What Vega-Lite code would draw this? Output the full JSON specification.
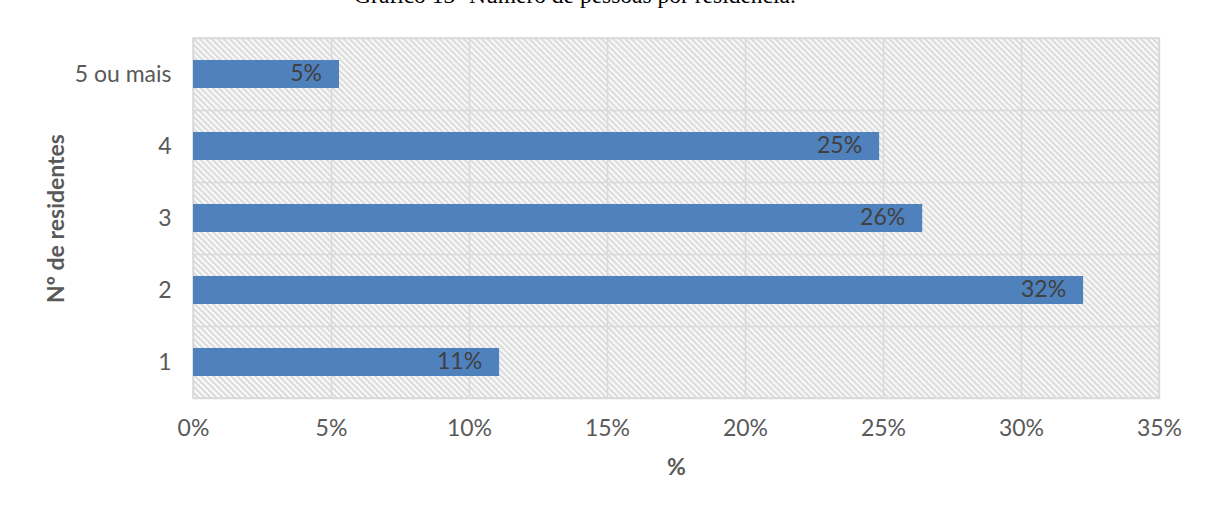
{
  "$schema": "https://vega.github.io/schema/vega-lite/v6.json",
  "autosize": {"type": "none"},
  "width": 966,
  "height": 360,
  "padding": {"left": 193, "top": 38, "right": 47, "bottom": 109},
  "background": "white",
  "title": {
    "text": "Gráfico 13- Número de pessoas por residência.",
    "orient": "top",
    "anchor": "middle",
    "frame": "group",
    "font": "Liberation Serif",
    "fontSize": 23.5,
    "fontWeight": "normal",
    "color": "#000000",
    "offset": 20,
    "dx": -101
  },
  "data": {
    "values": [
      {"residentes": "5 ou mais", "pct": 0.0529},
      {"residentes": "4", "pct": 0.2486},
      {"residentes": "3", "pct": 0.2642},
      {"residentes": "2", "pct": 0.3225},
      {"residentes": "1", "pct": 0.1109}
    ]
  },
  "encoding": {
    "y": {
      "field": "residentes",
      "type": "nominal",
      "sort": ["5 ou mais", "4", "3", "2", "1"],
      "scale": {"paddingInner": 0, "paddingOuter": 0},
      "axis": {
        "title": "Nº de residentes",
        "titleFont": "Lato",
        "titleFontSize": 23,
        "titleFontWeight": "bold",
        "titleColor": "#595959",
        "titlePadding": 6,
        "labelFont": "Lato",
        "labelFontSize": 23,
        "labelColor": "#595959",
        "labelPadding": 22,
        "ticks": false,
        "domain": false,
        "grid": true,
        "tickBand": "extent",
        "gridColor": "#d9d9d9",
        "gridWidth": 1.5
      }
    },
    "x": {
      "field": "pct",
      "type": "quantitative",
      "scale": {"domain": [0, 0.35], "nice": false},
      "axis": {
        "title": "%",
        "titleFont": "Lato",
        "titleFontSize": 23,
        "titleFontWeight": "bold",
        "titleColor": "#595959",
        "titlePadding": 16,
        "labelFont": "Lato",
        "labelFontSize": 23,
        "labelColor": "#595959",
        "labelPadding": 19,
        "format": ".0%",
        "values": [0, 0.05, 0.1, 0.15, 0.2, 0.25, 0.3, 0.35],
        "ticks": false,
        "domain": false,
        "grid": true,
        "gridColor": "#d9d9d9",
        "gridWidth": 1.5,
        "labelFlush": false
      }
    }
  },
  "layer": [
    {
      "mark": {"type": "bar", "color": "#4f81bd", "height": {"band": 0.39}}
    },
    {
      "mark": {"type": "text", "align": "right", "baseline": "middle", "dx": -17, "font": "Lato", "fontSize": 23, "color": "#404040"},
      "encoding": {
        "text": {"field": "pct", "type": "quantitative", "format": ".0%"}
      }
    }
  ],
  "config": {
    "view": {
      "stroke": "#d9d9d9",
      "strokeWidth": 1.5,
      "fill": {
        "gradient": "linear",
        "x1": 0, "y1": 1, "x2": 1.3625, "y2": 0.4922,
        "stops": [
{"offset":0,"color":"#d6d6d6"},{"offset":0.002,"color":"#fff"},{"offset":0.004,"color":"#d6d6d6"},{"offset":0.006,"color":"#fff"},{"offset":0.008,"color":"#d6d6d6"},{"offset":0.01,"color":"#fff"},{"offset":0.012,"color":"#d6d6d6"},{"offset":0.014,"color":"#fff"},{"offset":0.016,"color":"#d6d6d6"},{"offset":0.018,"color":"#fff"},
{"offset":0.02,"color":"#d6d6d6"},{"offset":0.022,"color":"#fff"},{"offset":0.024,"color":"#d6d6d6"},{"offset":0.026,"color":"#fff"},{"offset":0.028,"color":"#d6d6d6"},{"offset":0.03,"color":"#fff"},{"offset":0.032,"color":"#d6d6d6"},{"offset":0.034,"color":"#fff"},{"offset":0.036,"color":"#d6d6d6"},{"offset":0.038,"color":"#fff"},
{"offset":0.04,"color":"#d6d6d6"},{"offset":0.042,"color":"#fff"},{"offset":0.044,"color":"#d6d6d6"},{"offset":0.046,"color":"#fff"},{"offset":0.048,"color":"#d6d6d6"},{"offset":0.05,"color":"#fff"},{"offset":0.052,"color":"#d6d6d6"},{"offset":0.054,"color":"#fff"},{"offset":0.056,"color":"#d6d6d6"},{"offset":0.058,"color":"#fff"},
{"offset":0.06,"color":"#d6d6d6"},{"offset":0.062,"color":"#fff"},{"offset":0.064,"color":"#d6d6d6"},{"offset":0.066,"color":"#fff"},{"offset":0.068,"color":"#d6d6d6"},{"offset":0.07,"color":"#fff"},{"offset":0.072,"color":"#d6d6d6"},{"offset":0.074,"color":"#fff"},{"offset":0.076,"color":"#d6d6d6"},{"offset":0.078,"color":"#fff"},
{"offset":0.08,"color":"#d6d6d6"},{"offset":0.082,"color":"#fff"},{"offset":0.084,"color":"#d6d6d6"},{"offset":0.086,"color":"#fff"},{"offset":0.088,"color":"#d6d6d6"},{"offset":0.09,"color":"#fff"},{"offset":0.092,"color":"#d6d6d6"},{"offset":0.094,"color":"#fff"},{"offset":0.096,"color":"#d6d6d6"},{"offset":0.098,"color":"#fff"},
{"offset":0.1,"color":"#d6d6d6"},{"offset":0.102,"color":"#fff"},{"offset":0.104,"color":"#d6d6d6"},{"offset":0.106,"color":"#fff"},{"offset":0.108,"color":"#d6d6d6"},{"offset":0.11,"color":"#fff"},{"offset":0.112,"color":"#d6d6d6"},{"offset":0.114,"color":"#fff"},{"offset":0.116,"color":"#d6d6d6"},{"offset":0.118,"color":"#fff"},
{"offset":0.12,"color":"#d6d6d6"},{"offset":0.122,"color":"#fff"},{"offset":0.124,"color":"#d6d6d6"},{"offset":0.126,"color":"#fff"},{"offset":0.128,"color":"#d6d6d6"},{"offset":0.13,"color":"#fff"},{"offset":0.132,"color":"#d6d6d6"},{"offset":0.134,"color":"#fff"},{"offset":0.136,"color":"#d6d6d6"},{"offset":0.138,"color":"#fff"},
{"offset":0.14,"color":"#d6d6d6"},{"offset":0.142,"color":"#fff"},{"offset":0.144,"color":"#d6d6d6"},{"offset":0.146,"color":"#fff"},{"offset":0.148,"color":"#d6d6d6"},{"offset":0.15,"color":"#fff"},{"offset":0.152,"color":"#d6d6d6"},{"offset":0.154,"color":"#fff"},{"offset":0.156,"color":"#d6d6d6"},{"offset":0.158,"color":"#fff"},
{"offset":0.16,"color":"#d6d6d6"},{"offset":0.162,"color":"#fff"},{"offset":0.164,"color":"#d6d6d6"},{"offset":0.166,"color":"#fff"},{"offset":0.168,"color":"#d6d6d6"},{"offset":0.17,"color":"#fff"},{"offset":0.172,"color":"#d6d6d6"},{"offset":0.174,"color":"#fff"},{"offset":0.176,"color":"#d6d6d6"},{"offset":0.178,"color":"#fff"},
{"offset":0.18,"color":"#d6d6d6"},{"offset":0.182,"color":"#fff"},{"offset":0.184,"color":"#d6d6d6"},{"offset":0.186,"color":"#fff"},{"offset":0.188,"color":"#d6d6d6"},{"offset":0.19,"color":"#fff"},{"offset":0.192,"color":"#d6d6d6"},{"offset":0.194,"color":"#fff"},{"offset":0.196,"color":"#d6d6d6"},{"offset":0.198,"color":"#fff"},
{"offset":0.2,"color":"#d6d6d6"},{"offset":0.202,"color":"#fff"},{"offset":0.204,"color":"#d6d6d6"},{"offset":0.206,"color":"#fff"},{"offset":0.208,"color":"#d6d6d6"},{"offset":0.21,"color":"#fff"},{"offset":0.212,"color":"#d6d6d6"},{"offset":0.214,"color":"#fff"},{"offset":0.216,"color":"#d6d6d6"},{"offset":0.218,"color":"#fff"},
{"offset":0.22,"color":"#d6d6d6"},{"offset":0.222,"color":"#fff"},{"offset":0.224,"color":"#d6d6d6"},{"offset":0.226,"color":"#fff"},{"offset":0.228,"color":"#d6d6d6"},{"offset":0.23,"color":"#fff"},{"offset":0.232,"color":"#d6d6d6"},{"offset":0.234,"color":"#fff"},{"offset":0.236,"color":"#d6d6d6"},{"offset":0.238,"color":"#fff"},
{"offset":0.24,"color":"#d6d6d6"},{"offset":0.242,"color":"#fff"},{"offset":0.244,"color":"#d6d6d6"},{"offset":0.246,"color":"#fff"},{"offset":0.248,"color":"#d6d6d6"},{"offset":0.25,"color":"#fff"},{"offset":0.252,"color":"#d6d6d6"},{"offset":0.254,"color":"#fff"},{"offset":0.256,"color":"#d6d6d6"},{"offset":0.258,"color":"#fff"},
{"offset":0.26,"color":"#d6d6d6"},{"offset":0.262,"color":"#fff"},{"offset":0.264,"color":"#d6d6d6"},{"offset":0.266,"color":"#fff"},{"offset":0.268,"color":"#d6d6d6"},{"offset":0.27,"color":"#fff"},{"offset":0.272,"color":"#d6d6d6"},{"offset":0.274,"color":"#fff"},{"offset":0.276,"color":"#d6d6d6"},{"offset":0.278,"color":"#fff"},
{"offset":0.28,"color":"#d6d6d6"},{"offset":0.282,"color":"#fff"},{"offset":0.284,"color":"#d6d6d6"},{"offset":0.286,"color":"#fff"},{"offset":0.288,"color":"#d6d6d6"},{"offset":0.29,"color":"#fff"},{"offset":0.292,"color":"#d6d6d6"},{"offset":0.294,"color":"#fff"},{"offset":0.296,"color":"#d6d6d6"},{"offset":0.298,"color":"#fff"},
{"offset":0.3,"color":"#d6d6d6"},{"offset":0.302,"color":"#fff"},{"offset":0.304,"color":"#d6d6d6"},{"offset":0.306,"color":"#fff"},{"offset":0.308,"color":"#d6d6d6"},{"offset":0.31,"color":"#fff"},{"offset":0.312,"color":"#d6d6d6"},{"offset":0.314,"color":"#fff"},{"offset":0.316,"color":"#d6d6d6"},{"offset":0.318,"color":"#fff"},
{"offset":0.32,"color":"#d6d6d6"},{"offset":0.322,"color":"#fff"},{"offset":0.324,"color":"#d6d6d6"},{"offset":0.326,"color":"#fff"},{"offset":0.328,"color":"#d6d6d6"},{"offset":0.33,"color":"#fff"},{"offset":0.332,"color":"#d6d6d6"},{"offset":0.334,"color":"#fff"},{"offset":0.336,"color":"#d6d6d6"},{"offset":0.338,"color":"#fff"},
{"offset":0.34,"color":"#d6d6d6"},{"offset":0.342,"color":"#fff"},{"offset":0.344,"color":"#d6d6d6"},{"offset":0.346,"color":"#fff"},{"offset":0.348,"color":"#d6d6d6"},{"offset":0.35,"color":"#fff"},{"offset":0.352,"color":"#d6d6d6"},{"offset":0.354,"color":"#fff"},{"offset":0.356,"color":"#d6d6d6"},{"offset":0.358,"color":"#fff"},
{"offset":0.36,"color":"#d6d6d6"},{"offset":0.362,"color":"#fff"},{"offset":0.364,"color":"#d6d6d6"},{"offset":0.366,"color":"#fff"},{"offset":0.368,"color":"#d6d6d6"},{"offset":0.37,"color":"#fff"},{"offset":0.372,"color":"#d6d6d6"},{"offset":0.374,"color":"#fff"},{"offset":0.376,"color":"#d6d6d6"},{"offset":0.378,"color":"#fff"},
{"offset":0.38,"color":"#d6d6d6"},{"offset":0.382,"color":"#fff"},{"offset":0.384,"color":"#d6d6d6"},{"offset":0.386,"color":"#fff"},{"offset":0.388,"color":"#d6d6d6"},{"offset":0.39,"color":"#fff"},{"offset":0.392,"color":"#d6d6d6"},{"offset":0.394,"color":"#fff"},{"offset":0.396,"color":"#d6d6d6"},{"offset":0.398,"color":"#fff"},
{"offset":0.4,"color":"#d6d6d6"},{"offset":0.402,"color":"#fff"},{"offset":0.404,"color":"#d6d6d6"},{"offset":0.406,"color":"#fff"},{"offset":0.408,"color":"#d6d6d6"},{"offset":0.41,"color":"#fff"},{"offset":0.412,"color":"#d6d6d6"},{"offset":0.414,"color":"#fff"},{"offset":0.416,"color":"#d6d6d6"},{"offset":0.418,"color":"#fff"},
{"offset":0.42,"color":"#d6d6d6"},{"offset":0.422,"color":"#fff"},{"offset":0.424,"color":"#d6d6d6"},{"offset":0.426,"color":"#fff"},{"offset":0.428,"color":"#d6d6d6"},{"offset":0.43,"color":"#fff"},{"offset":0.432,"color":"#d6d6d6"},{"offset":0.434,"color":"#fff"},{"offset":0.436,"color":"#d6d6d6"},{"offset":0.438,"color":"#fff"},
{"offset":0.44,"color":"#d6d6d6"},{"offset":0.442,"color":"#fff"},{"offset":0.444,"color":"#d6d6d6"},{"offset":0.446,"color":"#fff"},{"offset":0.448,"color":"#d6d6d6"},{"offset":0.45,"color":"#fff"},{"offset":0.452,"color":"#d6d6d6"},{"offset":0.454,"color":"#fff"},{"offset":0.456,"color":"#d6d6d6"},{"offset":0.458,"color":"#fff"},
{"offset":0.46,"color":"#d6d6d6"},{"offset":0.462,"color":"#fff"},{"offset":0.464,"color":"#d6d6d6"},{"offset":0.466,"color":"#fff"},{"offset":0.468,"color":"#d6d6d6"},{"offset":0.47,"color":"#fff"},{"offset":0.472,"color":"#d6d6d6"},{"offset":0.474,"color":"#fff"},{"offset":0.476,"color":"#d6d6d6"},{"offset":0.478,"color":"#fff"},
{"offset":0.48,"color":"#d6d6d6"},{"offset":0.482,"color":"#fff"},{"offset":0.484,"color":"#d6d6d6"},{"offset":0.486,"color":"#fff"},{"offset":0.488,"color":"#d6d6d6"},{"offset":0.49,"color":"#fff"},{"offset":0.492,"color":"#d6d6d6"},{"offset":0.494,"color":"#fff"},{"offset":0.496,"color":"#d6d6d6"},{"offset":0.498,"color":"#fff"},
{"offset":0.5,"color":"#d6d6d6"},{"offset":0.502,"color":"#fff"},{"offset":0.504,"color":"#d6d6d6"},{"offset":0.506,"color":"#fff"},{"offset":0.508,"color":"#d6d6d6"},{"offset":0.51,"color":"#fff"},{"offset":0.512,"color":"#d6d6d6"},{"offset":0.514,"color":"#fff"},{"offset":0.516,"color":"#d6d6d6"},{"offset":0.518,"color":"#fff"},
{"offset":0.52,"color":"#d6d6d6"},{"offset":0.522,"color":"#fff"},{"offset":0.524,"color":"#d6d6d6"},{"offset":0.526,"color":"#fff"},{"offset":0.528,"color":"#d6d6d6"},{"offset":0.53,"color":"#fff"},{"offset":0.532,"color":"#d6d6d6"},{"offset":0.534,"color":"#fff"},{"offset":0.536,"color":"#d6d6d6"},{"offset":0.538,"color":"#fff"},
{"offset":0.54,"color":"#d6d6d6"},{"offset":0.542,"color":"#fff"},{"offset":0.544,"color":"#d6d6d6"},{"offset":0.546,"color":"#fff"},{"offset":0.548,"color":"#d6d6d6"},{"offset":0.55,"color":"#fff"},{"offset":0.552,"color":"#d6d6d6"},{"offset":0.554,"color":"#fff"},{"offset":0.556,"color":"#d6d6d6"},{"offset":0.558,"color":"#fff"},
{"offset":0.56,"color":"#d6d6d6"},{"offset":0.562,"color":"#fff"},{"offset":0.564,"color":"#d6d6d6"},{"offset":0.566,"color":"#fff"},{"offset":0.568,"color":"#d6d6d6"},{"offset":0.57,"color":"#fff"},{"offset":0.572,"color":"#d6d6d6"},{"offset":0.574,"color":"#fff"},{"offset":0.576,"color":"#d6d6d6"},{"offset":0.578,"color":"#fff"},
{"offset":0.58,"color":"#d6d6d6"},{"offset":0.582,"color":"#fff"},{"offset":0.584,"color":"#d6d6d6"},{"offset":0.586,"color":"#fff"},{"offset":0.588,"color":"#d6d6d6"},{"offset":0.59,"color":"#fff"},{"offset":0.592,"color":"#d6d6d6"},{"offset":0.594,"color":"#fff"},{"offset":0.596,"color":"#d6d6d6"},{"offset":0.598,"color":"#fff"},
{"offset":0.6,"color":"#d6d6d6"},{"offset":0.602,"color":"#fff"},{"offset":0.604,"color":"#d6d6d6"},{"offset":0.606,"color":"#fff"},{"offset":0.608,"color":"#d6d6d6"},{"offset":0.61,"color":"#fff"},{"offset":0.612,"color":"#d6d6d6"},{"offset":0.614,"color":"#fff"},{"offset":0.616,"color":"#d6d6d6"},{"offset":0.618,"color":"#fff"},
{"offset":0.62,"color":"#d6d6d6"},{"offset":0.622,"color":"#fff"},{"offset":0.624,"color":"#d6d6d6"},{"offset":0.626,"color":"#fff"},{"offset":0.628,"color":"#d6d6d6"},{"offset":0.63,"color":"#fff"},{"offset":0.632,"color":"#d6d6d6"},{"offset":0.634,"color":"#fff"},{"offset":0.636,"color":"#d6d6d6"},{"offset":0.638,"color":"#fff"},
{"offset":0.64,"color":"#d6d6d6"},{"offset":0.642,"color":"#fff"},{"offset":0.644,"color":"#d6d6d6"},{"offset":0.646,"color":"#fff"},{"offset":0.648,"color":"#d6d6d6"},{"offset":0.65,"color":"#fff"},{"offset":0.652,"color":"#d6d6d6"},{"offset":0.654,"color":"#fff"},{"offset":0.656,"color":"#d6d6d6"},{"offset":0.658,"color":"#fff"},
{"offset":0.66,"color":"#d6d6d6"},{"offset":0.662,"color":"#fff"},{"offset":0.664,"color":"#d6d6d6"},{"offset":0.666,"color":"#fff"},{"offset":0.668,"color":"#d6d6d6"},{"offset":0.67,"color":"#fff"},{"offset":0.672,"color":"#d6d6d6"},{"offset":0.674,"color":"#fff"},{"offset":0.676,"color":"#d6d6d6"},{"offset":0.678,"color":"#fff"},
{"offset":0.68,"color":"#d6d6d6"},{"offset":0.682,"color":"#fff"},{"offset":0.684,"color":"#d6d6d6"},{"offset":0.686,"color":"#fff"},{"offset":0.688,"color":"#d6d6d6"},{"offset":0.69,"color":"#fff"},{"offset":0.692,"color":"#d6d6d6"},{"offset":0.694,"color":"#fff"},{"offset":0.696,"color":"#d6d6d6"},{"offset":0.698,"color":"#fff"},
{"offset":0.7,"color":"#d6d6d6"},{"offset":0.702,"color":"#fff"},{"offset":0.704,"color":"#d6d6d6"},{"offset":0.706,"color":"#fff"},{"offset":0.708,"color":"#d6d6d6"},{"offset":0.71,"color":"#fff"},{"offset":0.712,"color":"#d6d6d6"},{"offset":0.714,"color":"#fff"},{"offset":0.716,"color":"#d6d6d6"},{"offset":0.718,"color":"#fff"},
{"offset":0.72,"color":"#d6d6d6"},{"offset":0.722,"color":"#fff"},{"offset":0.724,"color":"#d6d6d6"},{"offset":0.726,"color":"#fff"},{"offset":0.728,"color":"#d6d6d6"},{"offset":0.73,"color":"#fff"},{"offset":0.732,"color":"#d6d6d6"},{"offset":0.734,"color":"#fff"},{"offset":0.736,"color":"#d6d6d6"},{"offset":0.738,"color":"#fff"},
{"offset":0.74,"color":"#d6d6d6"},{"offset":0.742,"color":"#fff"},{"offset":0.744,"color":"#d6d6d6"},{"offset":0.746,"color":"#fff"},{"offset":0.748,"color":"#d6d6d6"},{"offset":0.75,"color":"#fff"},{"offset":0.752,"color":"#d6d6d6"},{"offset":0.754,"color":"#fff"},{"offset":0.756,"color":"#d6d6d6"},{"offset":0.758,"color":"#fff"},
{"offset":0.76,"color":"#d6d6d6"},{"offset":0.762,"color":"#fff"},{"offset":0.764,"color":"#d6d6d6"},{"offset":0.766,"color":"#fff"},{"offset":0.768,"color":"#d6d6d6"},{"offset":0.77,"color":"#fff"},{"offset":0.772,"color":"#d6d6d6"},{"offset":0.774,"color":"#fff"},{"offset":0.776,"color":"#d6d6d6"},{"offset":0.778,"color":"#fff"},
{"offset":0.78,"color":"#d6d6d6"},{"offset":0.782,"color":"#fff"},{"offset":0.784,"color":"#d6d6d6"},{"offset":0.786,"color":"#fff"},{"offset":0.788,"color":"#d6d6d6"},{"offset":0.79,"color":"#fff"},{"offset":0.792,"color":"#d6d6d6"},{"offset":0.794,"color":"#fff"},{"offset":0.796,"color":"#d6d6d6"},{"offset":0.798,"color":"#fff"},
{"offset":0.8,"color":"#d6d6d6"},{"offset":0.802,"color":"#fff"},{"offset":0.804,"color":"#d6d6d6"},{"offset":0.806,"color":"#fff"},{"offset":0.808,"color":"#d6d6d6"},{"offset":0.81,"color":"#fff"},{"offset":0.812,"color":"#d6d6d6"},{"offset":0.814,"color":"#fff"},{"offset":0.816,"color":"#d6d6d6"},{"offset":0.818,"color":"#fff"},
{"offset":0.82,"color":"#d6d6d6"},{"offset":0.822,"color":"#fff"},{"offset":0.824,"color":"#d6d6d6"},{"offset":0.826,"color":"#fff"},{"offset":0.828,"color":"#d6d6d6"},{"offset":0.83,"color":"#fff"},{"offset":0.832,"color":"#d6d6d6"},{"offset":0.834,"color":"#fff"},{"offset":0.836,"color":"#d6d6d6"},{"offset":0.838,"color":"#fff"},
{"offset":0.84,"color":"#d6d6d6"},{"offset":0.842,"color":"#fff"},{"offset":0.844,"color":"#d6d6d6"},{"offset":0.846,"color":"#fff"},{"offset":0.848,"color":"#d6d6d6"},{"offset":0.85,"color":"#fff"},{"offset":0.852,"color":"#d6d6d6"},{"offset":0.854,"color":"#fff"},{"offset":0.856,"color":"#d6d6d6"},{"offset":0.858,"color":"#fff"},
{"offset":0.86,"color":"#d6d6d6"},{"offset":0.862,"color":"#fff"},{"offset":0.864,"color":"#d6d6d6"},{"offset":0.866,"color":"#fff"},{"offset":0.868,"color":"#d6d6d6"},{"offset":0.87,"color":"#fff"},{"offset":0.872,"color":"#d6d6d6"},{"offset":0.874,"color":"#fff"},{"offset":0.876,"color":"#d6d6d6"},{"offset":0.878,"color":"#fff"},
{"offset":0.88,"color":"#d6d6d6"},{"offset":0.882,"color":"#fff"},{"offset":0.884,"color":"#d6d6d6"},{"offset":0.886,"color":"#fff"},{"offset":0.888,"color":"#d6d6d6"},{"offset":0.89,"color":"#fff"}
        ]
      }
    }
  }
}
